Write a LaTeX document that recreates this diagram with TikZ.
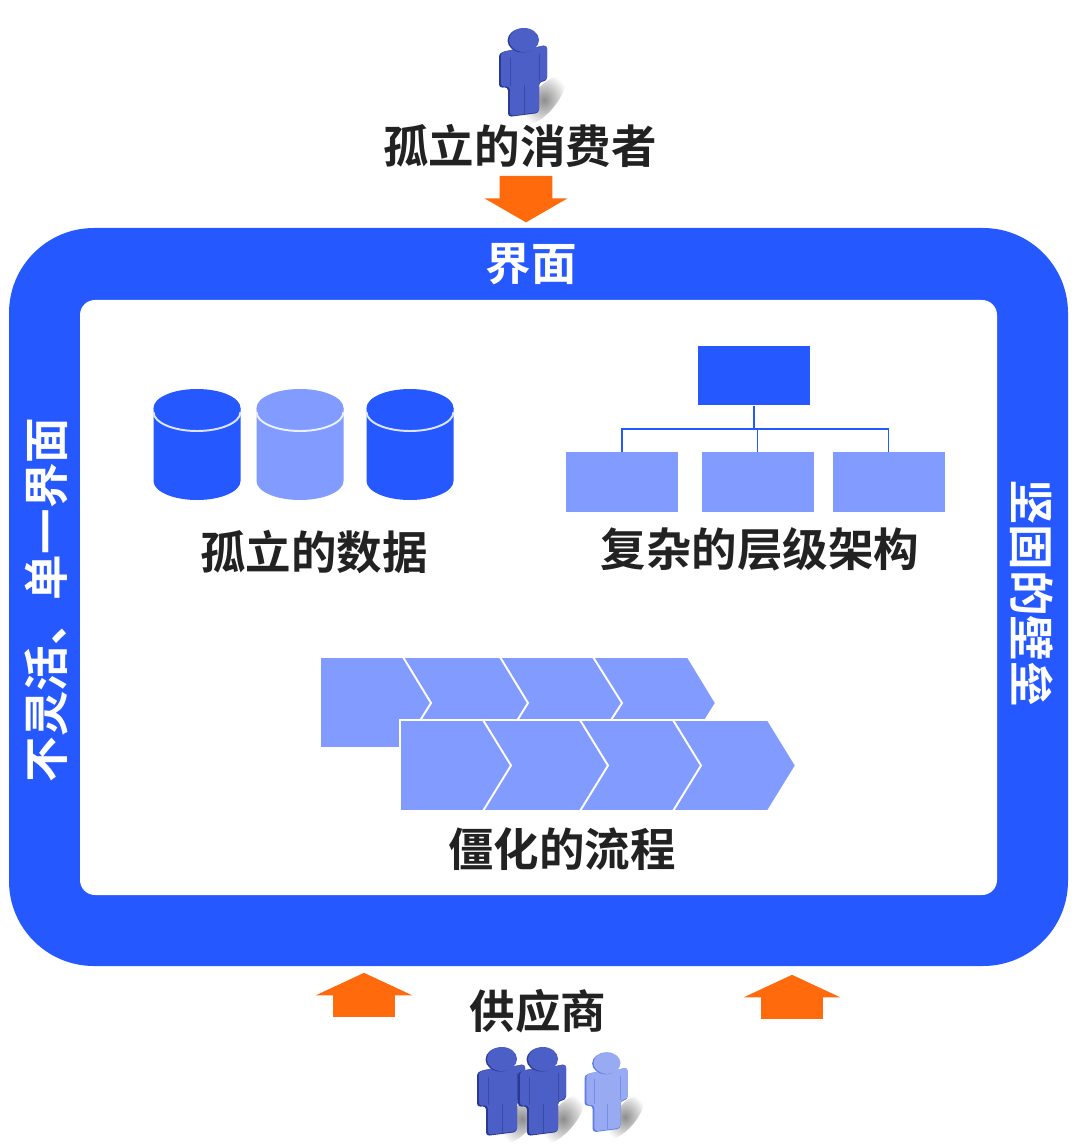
\documentclass[tikz,border=0pt]{standalone}
\usepackage{fontspec}
\usepackage{xcolor}
\usetikzlibrary{arrows.meta, positioning, shapes.arrows}
\setmainfont{Noto Sans CJK SC}[BoldFont={Noto Sans CJK SC Bold}]
\definecolor{FrameBlue}{HTML}{2558FF}
\definecolor{PaleBlue}{HTML}{829BFF}
\definecolor{BlockOrange}{HTML}{FF6A0D}
\definecolor{LabelInk}{HTML}{222222}
\definecolor{ManFront}{HTML}{4C5FC6}
\definecolor{ManSide}{HTML}{2A3A94}
\definecolor{GhostFront}{HTML}{97AAF2}
\definecolor{GhostSide}{HTML}{5F7BE4}
\tikzset{
  caption/.style={font=\fontsize{25.9pt}{30pt}\selectfont\bfseries, text=LabelInk, inner sep=0pt},
  bandtext/.style={caption, text=white},
  orgbox/.style={draw=none, minimum width=2.24cm, minimum height=1.2cm, inner sep=0pt, fill=PaleBlue},
  orgtop/.style={orgbox, fill=FrameBlue},
  orgline/.style={draw=FrameBlue, line width=0.85pt},
  chevron/.style={fill=PaleBlue, draw=white, line width=1.1pt},
  downarrow/.style={single arrow, draw=none, fill=BlockOrange, inner xsep=0pt, inner ysep=0.52cm,
    minimum height=0.93cm, single arrow head extend=0.3cm, single arrow tip angle=120},
  uparrow/.style={single arrow, draw=none, fill=BlockOrange, inner xsep=0pt, inner ysep=0.61cm,
    minimum height=0.88cm, single arrow head extend=0.35cm, single arrow tip angle=130},
  pics/person/.style 2 args={code={
    \shade[inner color=black!45, outer color=white, shift={(20,60)}, rotate=50] (0,0) ellipse [x radius=30, y radius=12];
    \fill[#2, rounded corners=2pt] (-25,13) -- (-8,9) -- (8,8) -- (23,5) -- (23,41) -- (15,42) -- (15,73) -- (-16,77) -- (-16,47) -- (-25,48) -- cycle;
    \fill[#1, rounded corners=2pt] (-23,12) -- (-8,9) -- (8,8) -- (23,5) -- (23,40) -- (15,41) -- (15,72) -- (-14,76) -- (-14,46) -- (-23,47) -- cycle;
    \fill[#2] (-1.5,0.5) ellipse [x radius=15, y radius=12];
    \fill[#1] (0,0) ellipse [x radius=15, y radius=12];
    \draw[#2!60!#1, line width=0.5pt] (-14,18) -- (-14,46) (15,14) -- (15,41) (0,45) -- (0,74);
  }},
  pics/drum/.style={code={
    \fill[#1] (-43.5,0) -- (-43.5,73) arc[start angle=180, end angle=0, x radius=43.5, y radius=19] -- (43.5,0) -- cycle;
    \fill[#1] (0,0) ellipse [x radius=43.5, y radius=19];
    \draw[white!85!#1, line width=1.1pt] (-43.5,4) arc[start angle=180, end angle=0, x radius=43.5, y radius=19];
  }},
}
\begin{document}
\begin{tikzpicture}[x=0.02cm, y=-0.02cm]
    \useasboundingbox (0,0) rectangle (1080,1145);
    % outer band and white panel
    \fill[FrameBlue, rounded corners=1.7cm] (9,228) rectangle (1068,966);
    \fill[white, rounded corners=0.3cm] (80,300) rectangle (997,895);
    \node[bandtext] (iface) at (531,264) {界面};
    \node[bandtext, rotate=90] (rigid) at (46,600) {不灵活、单一界面};
    \node[bandtext, rotate=-90] (wall) at (1032,593) {坚固的壁垒};

    % consumer
    \pic at (524,40) {person={ManFront}{ManSide}};
    \node[caption] (buyer) at (520,146) {孤立的消费者};
    \node[downarrow, rotate=-90] (arrbuyer) at (526,191.5) {};

    % data
    \pic at (197,408) {drum=FrameBlue};
    \pic at (300,408) {drum=PaleBlue};
    \pic at (410,408) {drum=FrameBlue};
    \node[caption] (data) at (314,552) {孤立的数据};

    % hierarchy
    \node[orgtop] (boss) at (754,375.5) {};
    \node[orgbox] (kida) at (622,482) {};
    \node[orgbox] (kidb) at (757.5,482) {};
    \node[orgbox] (kidc) at (888.5,482) {};
    \coordinate (bus) at (754,429);
    \draw[orgline] (boss.south) -- (bus);
    \draw[orgline] (bus) -| (kida.north);
    \draw[orgline] (bus) -| (kidb.north);
    \draw[orgline] (bus) -| (kidc.north);
    \node[caption] (tree) at (760,549) {复杂的层级架构};

    % process chains, last link first
    \foreach \r/\t in {688/716, 593/622, 500/528, 403/431}
      \draw[chevron] (320,657) -- (\r,657) -- (\t,703) -- (\r,748) -- (320,748) -- cycle;
    \foreach \r/\t in {768/796, 673/701, 580/608, 483/511}
      \draw[chevron] (400,720) -- (\r,720) -- (\t,765.5) -- (\r,811) -- (400,811) -- cycle;
    \node[caption] (flowtxt) at (562,849) {僵化的流程};

    % suppliers
    \node[uparrow, rotate=90] (arrleft) at (364,1002) {};
    \node[uparrow, rotate=90] (arrright) at (792,1004) {};
    \node[caption] (vendor) at (538,1011) {供应商};
    \pic at (502,1059) {person={ManFront}{ManSide}};
    \pic at (543,1059) {person={ManFront}{ManSide}};
    \pic[scale=0.9] at (607,1063) {person={GhostFront}{GhostSide}};
\end{tikzpicture}
\end{document}
